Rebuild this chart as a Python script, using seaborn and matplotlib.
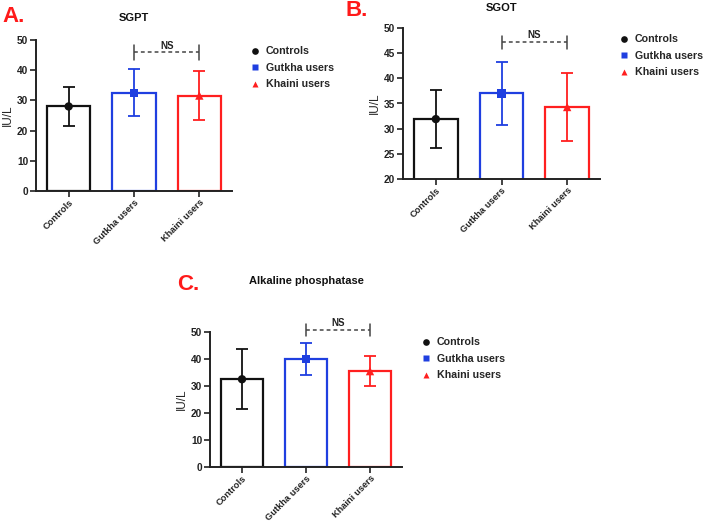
import matplotlib
matplotlib.use("Agg")
import matplotlib.pyplot as plt
import seaborn as sns
import pandas as pd

sns.set_style("ticks")
plt.rcParams['font.family'] = ['Liberation Sans', 'DejaVu Sans']

groups = ["Controls", "Gutkha users", "Khaini users"]
colors = ["#111111", "#1f3fe0", "#ff1f1f"]
markers = ["o", "s", "^"]

sgpt_mean = [28.0, 32.5, 31.6]
sgpt_sd = [6.5, 7.8, 8.2]
sgot_mean = [31.9, 37.0, 34.3]
sgot_sd = [5.7, 6.3, 6.8]
alp_mean = [32.5, 40.0, 35.5]
alp_sd = [11.1, 6.0, 5.5]

titles = ["SGPT", "SGOT", "Alkaline phosphatase"]
panel_labels = ["A.", "B.", "C."]
ns_level = [46.0, 47.2, 50.9]
ns_half = [2.5, 1.3, 2.2]
ylims = [(0, 50), (20, 50), (0, 50)]
yticks = [[0, 10, 20, 30, 40, 50], [20, 25, 30, 35, 40, 45, 50], [0, 10, 20, 30, 40, 50]]

W, H = 705, 524
fig = plt.figure(figsize=(W / 100, H / 100), dpi=100)

axes_px = [(36, 40, 232, 191), (403, 28, 600, 179), (210, 332, 402, 467)]
title_px = [(134, 18), (502, 8), (306, 281)]
label_px = [(14, 17), (357, 11), (188, 284)]
legend_px = [(241, 39), (610, 27), (412, 330)]

datasets = [(sgpt_mean, sgpt_sd), (sgot_mean, sgot_sd), (alp_mean, alp_sd)]

for i, (means, sds) in enumerate(datasets):
    l, t, r, b = axes_px[i]
    ax = fig.add_axes([l / W, 1 - b / H, (r - l) / W, (b - t) / H])
    df = pd.DataFrame({"group": groups, "value": means})
    sns.barplot(data=df, x="group", y="value", hue="group", palette=colors,
                fill=False, width=0.66, linewidth=1.6, errorbar=None,
                legend=False, ax=ax)
    for j in range(3):
        ax.errorbar(j, means[j], yerr=sds[j], fmt="none", ecolor=colors[j],
                    elinewidth=1.3, capsize=4, capthick=1.3, zorder=3)
    sns.scatterplot(data=df, x="group", y="value", hue="group", style="group",
                    palette=colors, markers=markers, s=36, edgecolor="none",
                    zorder=4, ax=ax)
    ax.set_xlim(-0.5, 2.5)
    ax.set_ylim(*ylims[i])
    ax.set_yticks(yticks[i])
    ax.set_xlabel("")
    ax.set_ylabel("IU/L", fontsize=8.5, labelpad=2)
    ax.set_xticks(range(3))
    ax.set_xticklabels(groups, rotation=45, ha="right", rotation_mode="anchor",
                       fontsize=6.7, fontweight="bold")
    for lab in ax.get_yticklabels():
        lab.set_fontsize(7.3)
        lab.set_fontweight("bold")
    for s in ["top", "right"]:
        ax.spines[s].set_visible(False)
    for s in ["left", "bottom"]:
        ax.spines[s].set_linewidth(1.4)
        ax.spines[s].set_color("#222222")
    ax.tick_params(width=1.2, length=4, pad=1.5, colors="#222222")
    ax.tick_params(axis="x", pad=1.0)
    # NS bracket
    y0 = ns_level[i]
    h = ns_half[i]
    ax.plot([1, 2], [y0, y0], ls=(0, (2.5, 2)), color="#444444", lw=1.1, clip_on=False)
    ax.plot([1, 1], [y0 - h, y0 + h], color="#444444", lw=1.1, clip_on=False)
    ax.plot([2, 2], [y0 - h, y0 + h], color="#444444", lw=1.1, clip_on=False)
    ax.text(1.5, y0 + 0.4, "NS", ha="center", va="bottom", fontsize=7,
            fontweight="bold", color="#222222", clip_on=False)
    # legend
    handles, labs = ax.get_legend_handles_labels()
    lx, ly = legend_px[i]
    leg = ax.legend(handles, labs, loc="upper left",
                    bbox_to_anchor=(lx / W, 1 - ly / H),
                    bbox_transform=fig.transFigure, frameon=False,
                    fontsize=7.7, handletextpad=0.4, labelspacing=0.6,
                    handlelength=1.2, borderpad=0.2, markerscale=0.8)
    for txt in leg.get_texts():
        txt.set_fontweight("bold")
    # title and panel letter
    tx, ty = title_px[i]
    fig.text(tx / W, 1 - ty / H, titles[i], ha="center", va="center",
             fontsize=8, fontweight="bold", color="#111111")
    px, py = label_px[i]
    fig.text(px / W, 1 - py / H, panel_labels[i], ha="center", va="center",
             fontsize=16, fontweight="bold", color="#ff1a1a")

fig.savefig("out.png", dpi=100)
